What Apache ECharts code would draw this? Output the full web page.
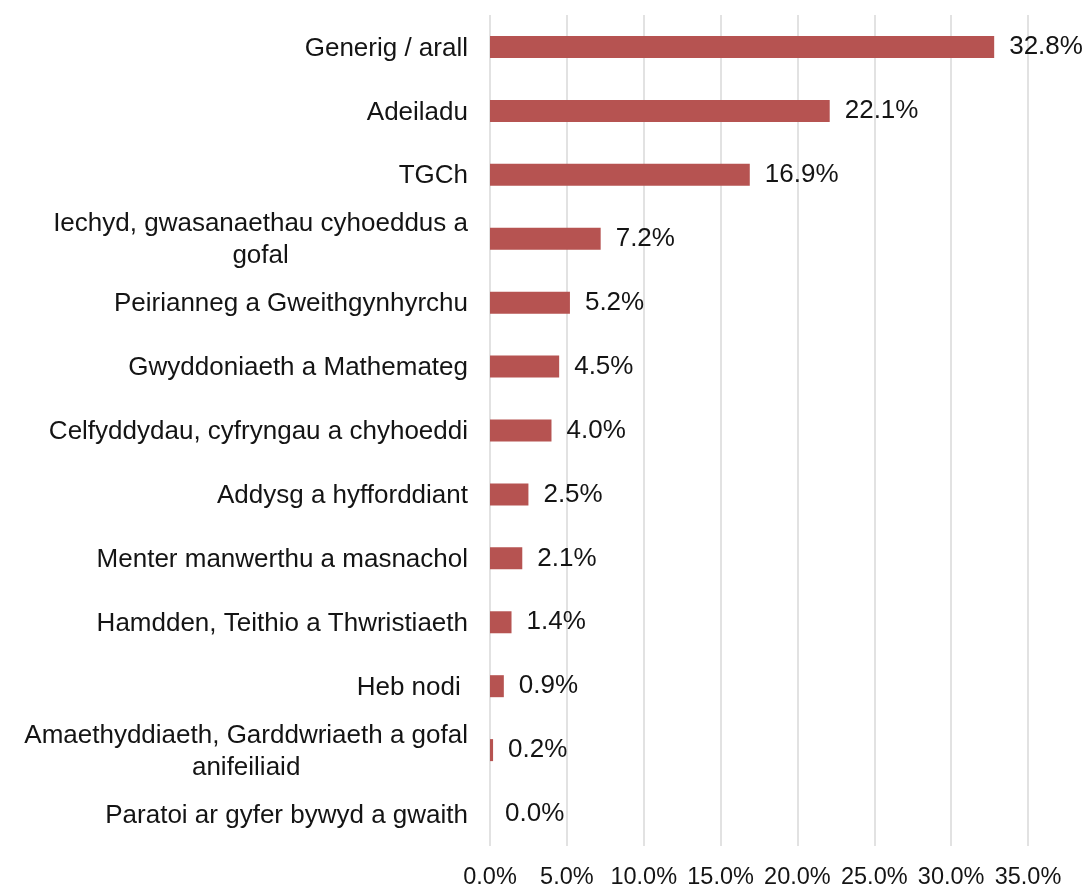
<!DOCTYPE html>
<html lang="cy" style="height: 100%">
<head>
  <meta charset="utf-8">
</head>
<body style="height: 100%; margin: 0; background: #fff">
  <div id="container" style="width: 1090px; height: 889px"></div>
  <script type="text/javascript" src="https://fastly.jsdelivr.net/npm/echarts@6.0.0/dist/echarts.min.js"></script>
  <script type="text/javascript">
    var categories = [
      'Generig / arall',
      'Adeiladu',
      'TGCh',
      'Iechyd, gwasanaethau cyhoeddus a\ngofal',
      'Peirianneg a Gweithgynhyrchu',
      'Gwyddoniaeth a Mathemateg',
      'Celfyddydau, cyfryngau a chyhoeddi',
      'Addysg a hyfforddiant',
      'Menter manwerthu a masnachol',
      'Hamdden, Teithio a Thwristiaeth',
      'Heb nodi ',
      'Amaethyddiaeth, Garddwriaeth a gofal\nanifeiliaid',
      'Paratoi ar gyfer bywyd a gwaith'
    ];
    var values = [32.8, 22.1, 16.9, 7.2, 5.2, 4.5, 4.0, 2.5, 2.1, 1.4, 0.9, 0.2, 0.0];

    var dom = document.getElementById('container');
    var myChart = echarts.init(dom, null, { renderer: 'canvas' });
    var font = '"Liberation Sans", Arial, sans-serif';
    var fs = 26;
    var ink = '#141414';

    var option = {
      animation: false,
      grid: { left: 490, right: 62, top: 15, bottom: 43, outerBoundsMode: 'none', containLabel: false },
      xAxis: {
        type: 'value',
        min: 0,
        max: 35,
        interval: 5,
        axisLine: { show: false },
        axisTick: { show: false },
        splitLine: { lineStyle: { color: '#d9d9d9', width: 1.5 } },
        axisLabel: {
          margin: 20,
          fontSize: 23.5,
          fontFamily: font,
          color: ink,
          formatter: function (v) { return v.toFixed(1) + '%'; }
        }
      },
      yAxis: {
        type: 'category',
        inverse: true,
        data: categories,
        axisLine: { show: false },
        axisTick: { show: false },
        axisLabel: {
          margin: 22,
          fontSize: fs,
          fontFamily: font,
          color: ink,
          lineHeight: 32,
          formatter: function (v) {
            return v.split('\n').map(function (s) { return '{c|' + s + '}'; }).join('\n');
          },
          rich: {
            c: { align: 'center', fontSize: fs, fontFamily: font, color: ink, lineHeight: 32, padding: [3, 0, 0, 0] }
          }
        }
      },
      series: [
        {
          type: 'bar',
          data: values,
          barWidth: 22,
          itemStyle: { color: '#b65351' },
          label: {
            show: true,
            position: 'right',
            distance: 15,
            fontSize: fs,
            fontFamily: font,
            color: ink,
            padding: [3, 0, 0, 0],
            formatter: function (p) { return p.value.toFixed(1) + '%'; }
          }
        }
      ]
    };

    myChart.setOption(option);
    window.addEventListener('resize', myChart.resize);
  </script>
</body>
</html>
